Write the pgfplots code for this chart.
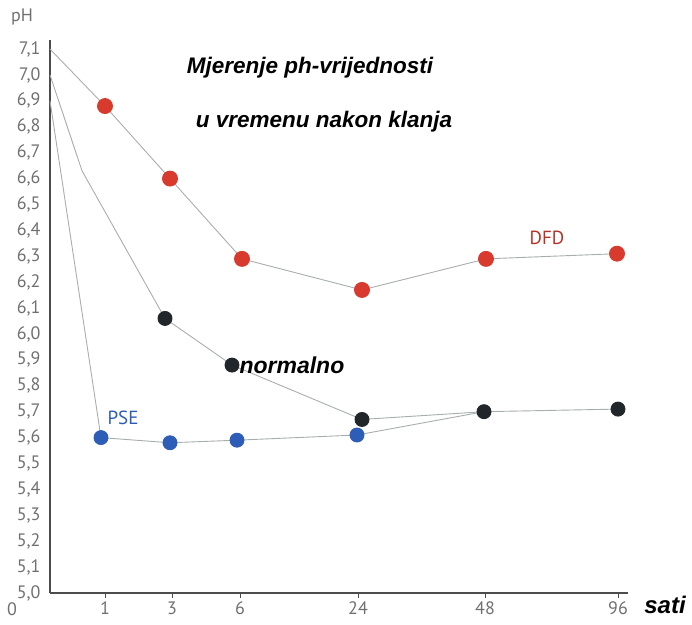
\documentclass[border=0pt]{standalone}
\usepackage{pgfplots}
\pgfplotsset{compat=1.18}
\usepackage{fontspec}
\setmainfont{PT Sans}
\newfontfamily\hel{Liberation Sans}
\definecolor{dfd}{HTML}{D83A2E}
\definecolor{nor}{HTML}{20262A}
\definecolor{pse}{HTML}{2E5DB8}
\definecolor{lin}{HTML}{A8ADAE}
\definecolor{tck}{HTML}{707070}
\begin{document}
\begin{tikzpicture}
\useasboundingbox (-50pt,-31pt) rectangle (642pt,593pt);
\begin{axis}[
  scale only axis, width=578pt, height=553pt,
  xmin=50, xmax=628, ymin=5.0, ymax=7.135,
  axis x line*=bottom, axis y line*=left,
  axis line style={line width=1.6pt, color=black!70},
  xtick={105,172,240,358,485,618},
  xticklabels={1,3,6,24,48,96},
  ytick={5.0,5.1,...,7.15},
  y tick label style={/pgf/number format/use comma, /pgf/number format/fixed, /pgf/number format/fixed zerofill, /pgf/number format/precision=1, xshift=-1pt},
  /pgf/number format/assume math mode=true,
  tick label style={font=\fontsize{18}{18}\selectfont, text=tck},
  ytick style={draw=none},
  xtick style={draw=black!70, line width=0.8pt},
  x tick label style={yshift=0pt},
  tick align=outside,
  major tick length=5pt,
  clip=false,
]
\addplot[lin, line width=0.9pt, mark=*, mark size=7.5pt, mark options={fill=dfd, draw=dfd}]
  coordinates {(105,6.88) (170,6.60) (242,6.29) (362,6.17) (486,6.29) (617,6.31)};
\addplot[lin, line width=0.9pt, forget plot] coordinates {(50,7.1) (105,6.88)};
\addplot[lin, line width=0.9pt, forget plot] coordinates {(50,7.0) (82,6.63) (165,6.06)};
\addplot[lin, line width=0.9pt, forget plot] coordinates {(50,6.9) (101,5.60)};
\addplot[lin, line width=0.9pt, mark=*, mark size=7pt, mark options={fill=pse, draw=pse}]
  coordinates {(101,5.60) (170,5.58) (237,5.59) (357,5.61)};
\addplot[lin, line width=0.9pt, forget plot] coordinates {(357,5.61) (484,5.70)};
\addplot[lin, line width=0.9pt, mark=*, mark size=7pt, mark options={fill=nor, draw=nor}]
  coordinates {(165,6.06) (232,5.88) (362,5.67) (484,5.70) (618,5.71)};
\node[anchor=north, text=tck, font=\fontsize{18}{18}\selectfont] at (axis cs:12,4.975) {0};
\node[text=tck, font=\fontsize{18}{18}\selectfont] at (axis cs:22,7.225) {pH};
\node[text=dfd!85!black, font=\fontsize{19}{19}\selectfont] at (axis cs:547,6.37) {DFD};
\node[text=pse, font=\fontsize{19}{19}\selectfont] at (axis cs:123,5.675) {PSE};
\node[anchor=west, font=\hel\bfseries\itshape\fontsize{23}{23}\selectfont] at (axis cs:236,5.88) {normalno};
\node[font=\hel\bfseries\itshape\fontsize{22.5}{22.5}\selectfont] at (axis cs:310,7.03) {Mjerenje ph-vrijednosti};
\node[font=\hel\bfseries\itshape\fontsize{22.5}{22.5}\selectfont] at (axis cs:324,6.82) {u vremenu nakon klanja};
\node[font=\hel\bfseries\itshape\fontsize{24}{24}\selectfont] at (axis cs:665,4.955) {sati};
\end{axis}
\end{tikzpicture}
\end{document}
